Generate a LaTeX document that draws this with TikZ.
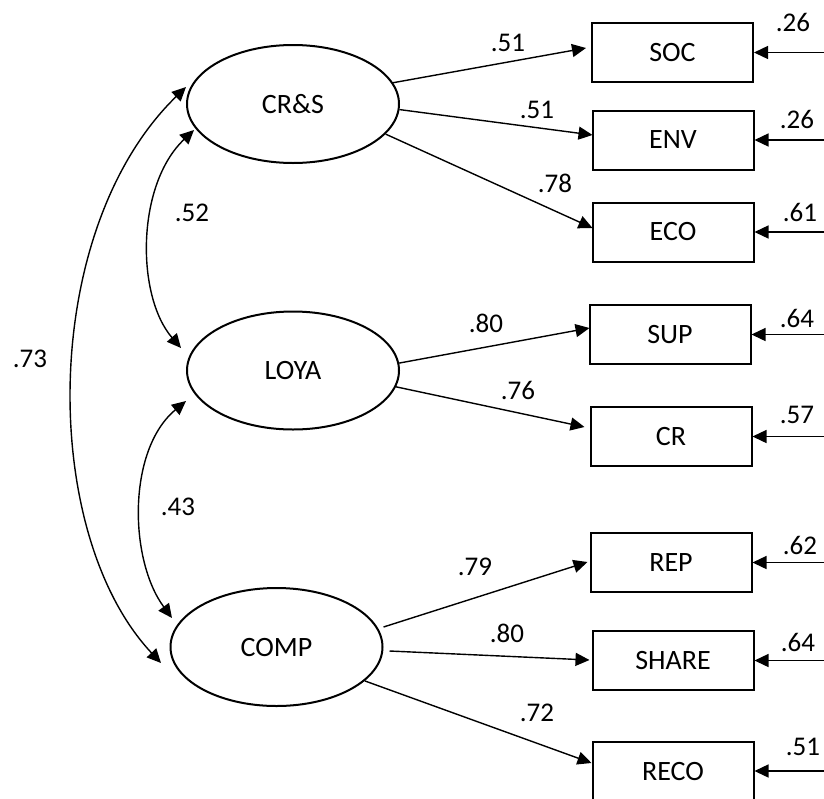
\documentclass[tikz,border=0pt]{standalone}
\usepackage{fontspec}
\setmainfont{Carlito}
\usetikzlibrary{
arrows.meta,
shapes.geometric,
positioning,
calc
}

\begin{document}
\begin{tikzpicture}[x=0.5pt,y=-0.5pt,
      latent/.style={draw,ellipse,line width=1pt,minimum width=106pt,minimum height=59pt,inner sep=0pt,font=\fontsize{14}{16}\selectfont},
      observed/.style={draw,rectangle,line width=1pt,minimum width=80.5pt,minimum height=29.5pt,inner sep=0pt,font=\fontsize{14}{16}\selectfont},
      coef/.style={inner sep=0pt,font=\fontsize{13.5}{16}\selectfont},
      load/.style={-{Triangle[length=7pt,width=6.5pt]},line width=0.7pt},
      cov/.style={{Triangle[length=7pt,width=6.5pt]}-{Triangle[length=7pt,width=6.5pt]},line width=0.7pt}]
      \useasboundingbox (0,0) rectangle (824,798);
      \node[latent] (crs) at (293,104) {CR\&S};
      \node[latent] (loya) at (293,370.5) {LOYA};
      \node[latent] (comp) at (276.5,647) {COMP};
      \node[observed] (soc) at (672.5,52.5) {SOC};
      \node[observed] (env) at (673,140) {ENV};
      \node[observed] (eco) at (673,232) {ECO};
      \node[observed] (sup) at (670,334.5) {SUP};
      \node[observed] (cr) at (671,436.5) {CR};
      \node[observed] (rep) at (671,562.5) {REP};
      \node[observed] (share) at (673,660.5) {SHARE};
      \node[observed] (reco) at (673,771) {RECO};
      \coordinate (rim) at (824,0);
      % loadings
      \draw[load] (crs.12) -- ($(soc.west)+(-5,-4.5)$);
      \draw[load] (crs.-3) -- ($(env.west)+(1,-5)$);
      \draw[load] (crs.-18) -- ($(eco.west)+(1,-4)$);
      \draw[load] (loya.4) -- ($(sup.west)+(1,-6.5)$);
      \draw[load] (loya.-9) -- ($(cr.west)+(-5,-9.5)$);
      \draw[load] ($(comp.east)+(0,-20)$) -- ($(rep.west)+(-2,-0.5)$);
      \draw[load] ($(comp.east)+(6,4)$) -- ($(share.west)+(-2,-0.5)$);
      \draw[load] (comp.-21) -- ($(reco.west)+(0,-8)$);
      \node[coef] (w-soc) at (508,43) {.51};
      \node[coef] (w-env) at (537,110) {.51};
      \node[coef] (w-eco) at (555,183) {.78};
      \node[coef] (w-sup) at (486,323) {.80};
      \node[coef] (w-cr) at (518,390) {.76};
      \node[coef] (w-rep) at (475,567) {.79};
      \node[coef] (w-share) at (507,633) {.80};
      \node[coef] (w-reco) at (537,713) {.72};
      % error terms
      \foreach \ind in {soc,env,eco,sup,cr,rep,share,reco}
         \draw[load] (\ind.east -| rim) -- (\ind.east);
      \node[coef] (r-soc) at (793,22) {.26};
      \node[coef] (r-env) at (797,119) {.26};
      \node[coef] (r-eco) at (800,212) {.61};
      \node[coef] (r-sup) at (797,318) {.64};
      \node[coef] (r-cr) at (797,415) {.57};
      \node[coef] (r-rep) at (800,545) {.62};
      \node[coef] (r-share) at (798,642) {.64};
      \node[coef] (r-reco) at (803,747) {.51};
      % correlations
      \draw[cov] ($(crs.west)+(8,26)$) .. controls +(-58,55) and +(-45,-52) .. ($(loya.west)+(-5,-22.5)$);
      \draw[cov] ($(loya.west)+(0,30.5)$) .. controls +(-59,49) and +(-43,-58) .. ($(comp.west)+(2.5,-29)$);
      \draw[cov] ($(crs.west)+(0,-17)$) .. controls +(-147,143) and +(-122,-130) .. ($(comp.west)+(-8.5,16)$);
      \node[coef] (c-cl) at (192,213) {.52};
      \node[coef] (c-lc) at (178,507) {.43};
      \node[coef] (c-cc) at (30,359) {.73};
\end{tikzpicture}
\end{document}
